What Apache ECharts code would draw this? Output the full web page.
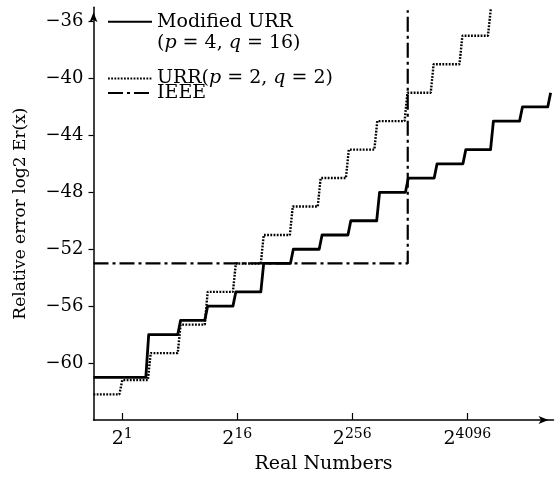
<!DOCTYPE html>
<html>
<head>
<meta charset="utf-8">
<script src="https://cdn.jsdelivr.net/npm/echarts@6/dist/echarts.min.js"></script>
<style>
  html, body { margin: 0; padding: 0; background: #fff; }
  #main { width: 557px; height: 479px; }
</style>
</head>
<body>
<div id="main"></div>
<script>
// x = log2 of the exponent (2^1 -> 0, 2^16 -> 4, ...), y = log2 relative error
var xTicks = [0, 4, 8, 12];
var xTickExp = ['1', '16', '256', '4096'];
var yTicks = [-60, -56, -52, -48, -44, -40, -36];

// Modified URR (p=4, q=16): x where each step rises, and the level of each flat part
var modStepX = [0.87, 1.98, 2.92, 3.9, 4.87, 5.9, 6.9, 7.9, 8.9, 9.9, 10.9, 11.9, 12.86, 13.87, 14.85];
var modLevel = [-61, -58, -57, -56, -55, -53, -52, -51, -50, -48, -47, -46, -45, -43, -42, -41];

// URR (p=2, q=2)
var urrStepX = [-0.05, 0.94, 1.98, 2.92, 3.9, 4.87, 5.88, 6.85, 7.83, 8.82, 9.87, 10.78, 11.78, 12.77];
var urrLevel = [-62.2, -61.2, -59.3, -57.3, -55, -53, -51, -49, -47, -45, -43, -41, -39, -37, -35.1];

// IEEE double
var ieeeX = [-1, 9.93, 9.93];
var ieeeY = [-53, -53, -35.2];

var FONT = 'DejaVu Serif';

function stairs(startX, stepX, level) {
    var half = 0.05; // small slant of each riser, as in the print
    var pts = [[startX, level[0]]];
    for (var i = 0; i < stepX.length; i++) {
        pts.push([stepX[i] - half, level[i]]);
        pts.push([stepX[i] + half, level[i + 1]]);
    }
    return pts;
}

var chart = echarts.init(document.getElementById('main'));

var option = {
    animation: false,
    backgroundColor: '#fff',
    color: ['#000'],
    grid: { left: 93.5, right: 3.5, top: 7.3, bottom: 53.3 },
    legend: [{
        data: ['Modified URR'],
        orient: 'vertical',
        left: 107, top: -9.8, padding: 0,
        itemWidth: 44, itemHeight: 12,
        itemStyle: { opacity: 0 },
        formatter: function () { return 'Modified URR\n({i|p} = 4, {i|q} = 16)'; },
        textStyle: {
            fontFamily: FONT, fontSize: 19, color: '#000', lineHeight: 21,
            padding: [21, 0, 0, 0],
            rich: { i: { fontFamily: FONT, fontSize: 19, fontStyle: 'italic', lineHeight: 21 } }
        }
    }, {
        data: ['URR(p = 2, q = 2)', 'IEEE'],
        orient: 'vertical',
        left: 107, top: 69, padding: 0,
        itemWidth: 44, itemHeight: 12, itemGap: -4.5,
        itemStyle: { opacity: 0 },
        formatter: function (name) {
            return name === 'IEEE' ? 'IEEE' : 'URR({i|p} = 2, {i|q} = 2)';
        },
        textStyle: {
            fontFamily: FONT, fontSize: 19, color: '#000', lineHeight: 14,
            rich: { i: { fontFamily: FONT, fontSize: 19, fontStyle: 'italic', lineHeight: 14 } }
        }
    }],
    xAxis: {
        type: 'value', min: -1, max: 15,
        name: 'Real Numbers', nameLocation: 'middle', nameGap: 35,
        nameTextStyle: { fontFamily: FONT, fontSize: 19, color: '#000' },
        axisLine: {
            onZero: false,
            lineStyle: { color: '#000', width: 1.5 },
            symbol: ['none', 'arrow'], symbolSize: [6, 10], symbolOffset: [0, -5]
        },
        axisTick: { inside: true, length: 7, customValues: xTicks, lineStyle: { color: '#000', width: 1.2 } },
        axisLabel: {
            customValues: xTicks, margin: 7, color: '#000',
            formatter: function (v) { return '{b|2}{s|' + xTickExp[xTicks.indexOf(v)] + '}'; },
            rich: {
                b: { fontFamily: FONT, fontSize: 19, color: '#000' },
                s: { fontFamily: FONT, fontSize: 14, color: '#000', padding: [0, 0, 11, 0] }
            }
        },
        splitLine: { show: false }
    },
    yAxis: {
        type: 'value', min: -64, max: -35, interval: 4,
        name: 'Relative error log2 Er(x)', nameLocation: 'middle', nameGap: 64,
        nameTextStyle: { fontFamily: FONT, fontSize: 17, color: '#000' },
        axisLine: {
            show: true, onZero: false,
            lineStyle: { color: '#000', width: 1.5 },
            symbol: ['none', 'arrow'], symbolSize: [6, 10], symbolOffset: [0, -5]
        },
        axisTick: { show: true, length: 5, customValues: yTicks, lineStyle: { color: '#000', width: 1.2 } },
        axisLabel: {
            customValues: yTicks, margin: 10, color: '#000',
            fontFamily: FONT, fontSize: 18,
            formatter: function (v) { return String(v).replace('-', '\u2212'); }
        },
        splitLine: { show: false }
    },
    series: [{
        name: 'IEEE',
        type: 'line',
        symbol: 'none',
        data: ieeeX.map(function (x, i) { return [x, ieeeY[i]]; }),
        lineStyle: { color: '#000', width: 2.2, type: [15, 4, 3, 4] },
        z: 2
    }, {
        name: 'URR(p = 2, q = 2)',
        type: 'line',
        symbol: 'none',
        data: stairs(-1, urrStepX, urrLevel),
        lineStyle: { color: '#000', width: 2.4, type: [1.8, 1.4] },
        z: 3
    }, {
        name: 'Modified URR',
        type: 'line',
        symbol: 'none',
        data: stairs(-1, modStepX, modLevel),
        lineStyle: { color: '#000', width: 2.8, join: 'round' },
        z: 4
    }]
};

chart.setOption(option);
</script>
</body>
</html>
